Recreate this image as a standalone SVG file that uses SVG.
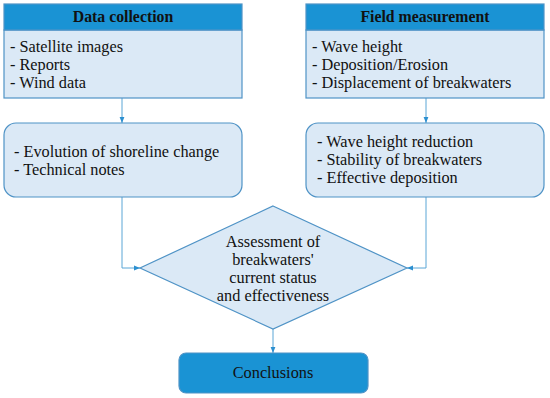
<svg xmlns="http://www.w3.org/2000/svg" width="550" height="398" viewBox="0 0 550 398">
<defs>
<style>
.t{font-family:"Liberation Serif","DejaVu Serif",serif;font-size:16.3px;fill:#111;}
.h{font-weight:bold;text-anchor:middle;font-size:15.8px;}
.c{text-anchor:middle;}
.box{fill:#dbe9f6;stroke:#4f93c6;stroke-width:1.2;}
.hdr{fill:#1a93d4;stroke:#4f93c6;stroke-width:1.2;}
.ln{fill:none;stroke:#5aa6d6;stroke-width:1;}
</style>
<marker id="ah" viewBox="0 0 10 10" refX="10" refY="5" markerWidth="6" markerHeight="6" orient="auto">
<path d="M0,1 L10,5 L0,9 z" fill="#2b8fd0"/>
</marker>
</defs>
<rect width="550" height="398" fill="#fff"/>
<g id="connectors">
<line class="ln" x1="122" y1="98" x2="122" y2="123" marker-end="url(#ah)"/>
<line class="ln" x1="426" y1="98" x2="426" y2="123" marker-end="url(#ah)"/>
<polyline class="ln" points="122,197 122,268 140,268" marker-end="url(#ah)"/>
<polyline class="ln" points="426,197 426,268 407,268" marker-end="url(#ah)"/>
<line class="ln" x1="273" y1="329" x2="273" y2="353" marker-end="url(#ah)"/>
</g>
<g id="data-collection">
<rect class="box" x="4" y="30" width="238" height="68"/>
<rect class="hdr" x="4" y="4" width="238" height="26"/>
<text class="t h" x="123" y="22">Data collection</text>
<text class="t" x="10" y="52">- Satellite images</text>
<text class="t" x="10" y="70">- Reports</text>
<text class="t" x="10" y="88">- Wind data</text>
</g>
<g id="field-measurement">
<rect class="box" x="306" y="30" width="238" height="68"/>
<rect class="hdr" x="306" y="4" width="238" height="26"/>
<text class="t h" x="425" y="22">Field measurement</text>
<text class="t" x="312" y="52">- Wave height</text>
<text class="t" x="312" y="70">- Deposition/Erosion</text>
<text class="t" x="312" y="88">- Displacement of breakwaters</text>
</g>
<g id="shoreline">
<rect class="box" x="4" y="123" width="238" height="74" rx="12"/>
<text class="t" x="14" y="157">- Evolution of shoreline change</text>
<text class="t" x="14" y="175">- Technical notes</text>
</g>
<g id="results">
<rect class="box" x="306" y="123" width="238" height="74" rx="12"/>
<text class="t" x="317" y="147">- Wave height reduction</text>
<text class="t" x="317" y="165">- Stability of breakwaters</text>
<text class="t" x="317" y="183">- Effective deposition</text>
</g>
<g id="assessment">
<polygon class="box" points="273,206 407,268 273,329 140,268"/>
<text class="t c" x="273" y="247">Assessment of</text>
<text class="t c" x="273" y="265">breakwaters'</text>
<text class="t c" x="273" y="283">current status</text>
<text class="t c" x="273" y="301">and effectiveness</text>
</g>
<g id="conclusions">
<rect class="hdr" x="179" y="353" width="189" height="40" rx="7"/>
<text class="t c" x="273" y="378">Conclusions</text>
</g>
</svg>
